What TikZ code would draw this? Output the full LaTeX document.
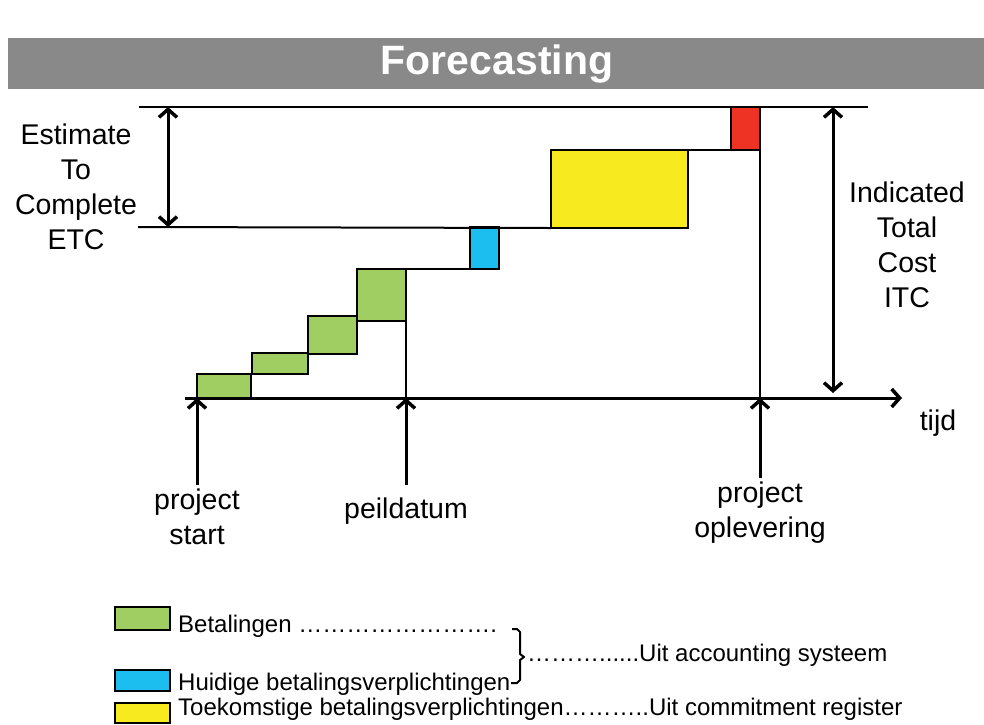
\documentclass[tikz,border=0pt]{standalone}
\usepackage{fontspec}
\setmainfont{Liberation Sans}
\usetikzlibrary{arrows.meta}
\definecolor{titlegray}{RGB}{137,137,137}
\definecolor{paygreen}{RGB}{161,206,98}
\definecolor{payblue}{RGB}{28,190,240}
\definecolor{payyellow}{RGB}{247,235,31}
\definecolor{payred}{RGB}{238,50,36}
\newcommand{\myell}{\char"2026}
\begin{document}
\begin{tikzpicture}[x=1pt,y=-1pt,
  cbox/.style={draw=black, line width=2.2pt, inner sep=0pt, outer sep=0pt, anchor=north west},
  thinline/.style={draw=black, line width=2pt},
  thickline/.style={draw=black, line width=3pt},
  tipbarb/.tip={Straight Barb[length=8pt,width=18pt,line width=3.5pt]},
  uparr/.style={thickline, -tipbarb},
  dblarr/.style={thickline, tipbarb-tipbarb},
  biglabel/.style={font=\fontsize{28.5}{35}\selectfont, align=center, inner sep=0pt},
  leglabel/.style={font=\fontsize{24}{28}\selectfont, inner sep=0pt, anchor=base west},
  legbox/.style={cbox, minimum width=55pt}
]
\useasboundingbox (0,0) rectangle (984,724);

% title bar
\node[fill=titlegray, inner sep=0pt, outer sep=0pt, anchor=north west,
      minimum width=976pt, minimum height=51pt] (bar) at (8,38) {};
\node[text=white, font=\fontsize{41}{44}\selectfont\bfseries, inner sep=0pt, anchor=base] (title) at (497,74) {Forecasting};

% reference coordinates
\coordinate (tl) at (139,107);
\coordinate (tr) at (868,107);
\coordinate (el) at (138,227);
\coordinate (a0) at (185,398);
\coordinate (a1) at (902,398);
\coordinate (etcT) at (168,107);
\coordinate (etcB) at (168,227);
\coordinate (itcT) at (833,107);
\coordinate (itcB) at (833,393);
\coordinate (psB) at (197,485);
\coordinate (pdB) at (406,485);
\coordinate (poB) at (760,478);

% bars
\node[cbox, fill=paygreen, minimum width=54pt, minimum height=24pt] (g1) at (197,374) {};
\node[cbox, fill=paygreen, minimum width=56pt, minimum height=21pt] (g2) at (252,353) {};
\node[cbox, fill=paygreen, minimum width=49pt, minimum height=38pt] (g3) at (308,316) {};
\node[cbox, fill=paygreen, minimum width=49pt, minimum height=52pt] (g4) at (357,269) {};
\node[cbox, fill=payblue, minimum width=29pt, minimum height=42pt] (blue) at (470,227) {};
\node[cbox, fill=payyellow, minimum width=137pt, minimum height=78pt] (yellow) at (551,150) {};
\node[cbox, fill=payred, minimum width=29pt, minimum height=43pt] (red) at (731,107) {};

% lines
\draw[thinline] (tl) -- (tr);
\draw[thinline] (el) -- (yellow.south west);
\draw[thinline] (g4.north east) -- (blue.south west);
\draw[thinline] (yellow.north east) -- (red.south west);
\draw[thinline] (g4.south east) -- (g4.south east |- a0);
\draw[thinline] (red.south east) -- (red.south east |- a0);

% axis and arrows
\draw[thickline, -tipbarb] (a0) -- (a1);
\draw[dblarr] (etcT) -- (etcB);
\draw[dblarr] (itcT) -- (itcB);
\draw[uparr] (psB) -- (psB |- a0);
\draw[uparr] (pdB) -- (pdB |- a0);
\draw[uparr] (poB) -- (poB |- a0);

% labels
\node[biglabel] (etc) at (76,186.5) {Estimate\\To\\Complete\\ETC};
\node[biglabel] (itc) at (907,245.3) {Indicated\\Total\\Cost\\ITC};
\node[biglabel, anchor=base] (tijd) at (938,430) {tijd};
\node[biglabel] (pstart) at (197,516.5) {project\\start};
\node[biglabel, anchor=base] (peil) at (406,518) {peildatum};
\node[biglabel] (poplev) at (760,512.5) {project\\oplevering};

% legend
\node[legbox, fill=paygreen, minimum height=23pt] (lg) at (115,607) {};
\node[legbox, fill=payblue, minimum height=21pt] (lb) at (115,670) {};
\node[legbox, fill=payyellow, minimum height=20pt] (ly) at (115,703) {};
\node[leglabel] (tg) at (178,632) {Betalingen \myell\myell\myell\myell\myell\myell\myell\myell.};
\node[leglabel] (tb) at (178,690) {Huidige betalingsverplichtingen};
\node[leglabel] (ty) at (178,715) {Toekomstige betalingsverplichtingen\myell\myell\myell..Uit commitment register};
\node[leglabel] (ta) at (527,661) {\myell\myell\myell......Uit accounting systeem};
\draw[line width=2pt, line join=round] (512,629) -- (517,629) -- (520,632) -- (520,654) -- (524,657)
  -- (520,660) -- (520,680) -- (517,683) -- (511,683);
\end{tikzpicture}
\end{document}
